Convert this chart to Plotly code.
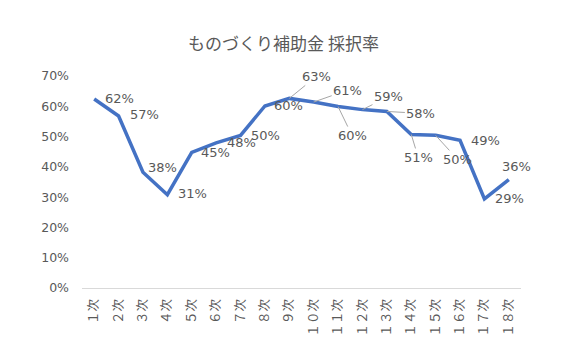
import plotly.graph_objects as go

categories = ["１次", "２次", "３次", "４次", "５次", "６次", "７次", "８次", "９次",
              "１０次", "１１次", "１２次", "１３次", "１４次", "１５次", "１６次", "１７次", "１８次"]
rates = [0.624, 0.568, 0.382, 0.308, 0.448, 0.479, 0.504, 0.601, 0.626,
         0.614, 0.599, 0.589, 0.583, 0.507, 0.504, 0.488, 0.294, 0.358]

# label offsets (pixels) and whether a leader line is drawn
label_dx = [25, 26, 20, 25, 24, 25, 25, 24, 27, 34, 14, 26, 34, 7, 22, 25, 25, 8]
label_dy = [-1, -1, -5, -1, 0, 0, 0, 0, -22, -12, 29, -13, 2, 23, 24, 0, 0, -13]
leader = [False, False, False, False, False, False, False, False, True,
          True, True, True, True, True, True, False, False, False]

TXT = "#595959"
CJK = "Noto Sans CJK JP"
NUM = "DejaVu Sans, Noto Sans CJK JP"

fig = go.Figure()
fig.add_trace(go.Scatter(
    x=categories, y=rates, mode="lines",
    line=dict(color="#4472C4", width=3.5),
    hoverinfo="skip", showlegend=False,
))

for c, v, dx, dy, ld in zip(categories, rates, label_dx, label_dy, leader):
    fig.add_annotation(
        x=c, y=v, text=f"{round(v * 100):d}%",
        showarrow=True, ax=dx, ay=dy, arrowhead=0, arrowwidth=1,
        arrowcolor="#a6a6a6" if ld else "rgba(0,0,0,0)",
        standoff=0, startstandoff=0,
        font=dict(family=NUM, size=13, color=TXT),
    )

fig.update_layout(
    width=567, height=359,
    margin=dict(l=82, r=46, t=76, b=71),
    paper_bgcolor="white", plot_bgcolor="white",
    title=dict(text="ものづくり補助金 採択率", x=0.5, xanchor="center",
               y=1 - 44 / 359, yref="container", yanchor="middle",
               automargin=False,
               font=dict(family=CJK, size=17, color=TXT)),
    font=dict(family=CJK, color=TXT),
)
fig.update_xaxes(
    type="category", range=[-0.5, len(categories) - 0.5],
    tickangle=-90, showgrid=False, automargin=False,
    showline=True, linecolor="#d9d9d9", linewidth=1,
    ticks="", ticklabelstandoff=5,
    tickfont=dict(family=CJK, size=12.5, color=TXT),
)
fig.update_yaxes(
    range=[0, 0.7], dtick=0.1, tickformat=".0%", automargin=False,
    showgrid=False, showline=False, zeroline=False,
    ticks="", ticklabelstandoff=12,
    tickfont=dict(family=NUM, size=12.5, color=TXT),
)

fig.write_html("out.html", config={"displayModeBar": False},
               post_script="document.body.style.margin='0';")
